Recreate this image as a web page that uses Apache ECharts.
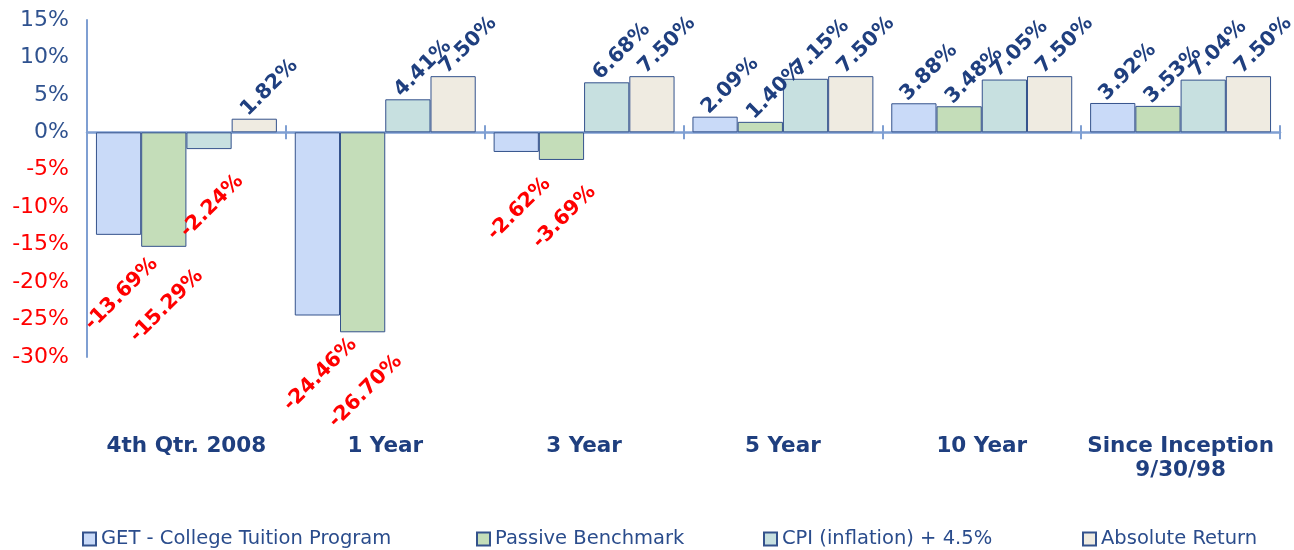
<!DOCTYPE html>
<html><head><meta charset="utf-8">
<script src="https://cdn.jsdelivr.net/npm/echarts@6/dist/echarts.min.js"></script>
<style>html,body{margin:0;padding:0;background:#fff}#c{width:1294px;height:550px}</style>
</head><body><div id="c"></div>
<script>
var categories = ['4th Qtr. 2008', '1 Year', '3 Year', '5 Year', '10 Year', 'Since Inception\n9/30/98'];
var seriesNames = ['GET - College Tuition Program', 'Passive Benchmark', 'CPI (inflation) + 4.5%', 'Absolute Return'];
var getValues = [-13.69, -24.46, -2.62, 2.09, 3.88, 3.92];
var passiveValues = [-15.29, -26.70, -3.69, 1.40, 3.48, 3.53];
var cpiValues = [-2.24, 4.41, 6.68, 7.15, 7.05, 7.04];
var absoluteValues = [1.82, 7.50, 7.50, 7.50, 7.50, 7.50];
var yTicks = [-30, -25, -20, -15, -10, -5, 0, 5, 10, 15];

var fills = ['#C9DAF8', '#C4DDB9', '#C7E0E0', '#EFEBE1'];
var navy = '#1F3F7F';
var axisBlue = '#7F9FD2';
var allValues = [getValues, passiveValues, cpiValues, absoluteValues];

function fmt(v) { return v.toFixed(2) + '%'; }

function makeSeries(i) {
  return {
    name: seriesNames[i],
    type: 'bar',
    xAxisIndex: 0,
    barGap: '0%',
    barCategoryGap: '9%',
    itemStyle: { color: fills[i], borderColor: '#34528C', borderWidth: 1 },
    data: allValues[i].map(function (v) {
      var txt = fmt(v);
      var neg = v < 0;
      return {
        value: v,
        label: {
          show: true,
          position: neg ? 'bottom' : 'top',
          distance: neg ? 45 + 2 * txt.length : 31,
          offset: neg ? [2, 2] : [10.6, 10.6],
          rotate: 45,
          align: 'center',
          verticalAlign: 'middle',
          formatter: txt,
          color: neg ? '#FF0000' : navy,
          fontFamily: 'DejaVu Sans',
          fontWeight: 'bold',
          fontSize: 20.5
        }
      };
    })
  };
}

var legendLefts = [77, 471, 758, 1077];
var legends = seriesNames.map(function (n, i) {
  return {
    data: [n],
    left: legendLefts[i],
    top: 524,
    icon: 'rect',
    itemWidth: 13,
    itemHeight: 13,
    itemGap: 0,
    selectedMode: false,
    textStyle: { color: '#2A4C8C', fontFamily: 'DejaVu Sans', fontSize: 19.5 }
  };
});

var zeroOffset = -337 * 15 / 45;

var chart = echarts.init(document.getElementById('c'), null, { renderer: 'canvas' });
chart.setOption({
  animation: false,
  backgroundColor: '#ffffff',
  legend: legends,
  grid: { left: 87, right: 14, top: 20, bottom: 193, containLabel: false },
  xAxis: [
    {
      type: 'category', data: categories, position: 'bottom',
      axisLine: { show: false, onZero: false }, axisTick: { show: false },
      axisLabel: {
        margin: 77, color: navy, fontFamily: 'DejaVu Sans', fontWeight: 'bold',
        fontSize: 21.5, lineHeight: 24, interval: 0
      }
    },
    {
      type: 'category', data: categories, position: 'bottom',
      axisLine: { show: true, onZero: true, lineStyle: { color: axisBlue, width: 2.5 } },
      axisTick: { show: true, length: 7, lineStyle: { color: axisBlue, width: 2 } },
      axisLabel: { show: false }
    },
    {
      type: 'category', data: categories, position: 'top', offset: zeroOffset,
      axisLine: { show: false, onZero: false },
      axisTick: { show: true, length: 7, lineStyle: { color: axisBlue, width: 2 } },
      axisLabel: { show: false }
    }
  ],
  yAxis: {
    type: 'value', min: yTicks[0], max: yTicks[yTicks.length - 1], interval: 5,
    axisLine: { show: true, lineStyle: { color: axisBlue, width: 2 } },
    axisTick: { show: false },
    splitLine: { show: false },
    axisLabel: {
      margin: 18, fontFamily: 'DejaVu Sans', fontSize: 22,
      formatter: function (v) { return v + '%'; },
      color: function (v) { return Number(v) < 0 ? '#FF0000' : '#2F528F'; }
    }
  },
  series: [makeSeries(0), makeSeries(1), makeSeries(2), makeSeries(3)]
});
</script>
</body></html>
